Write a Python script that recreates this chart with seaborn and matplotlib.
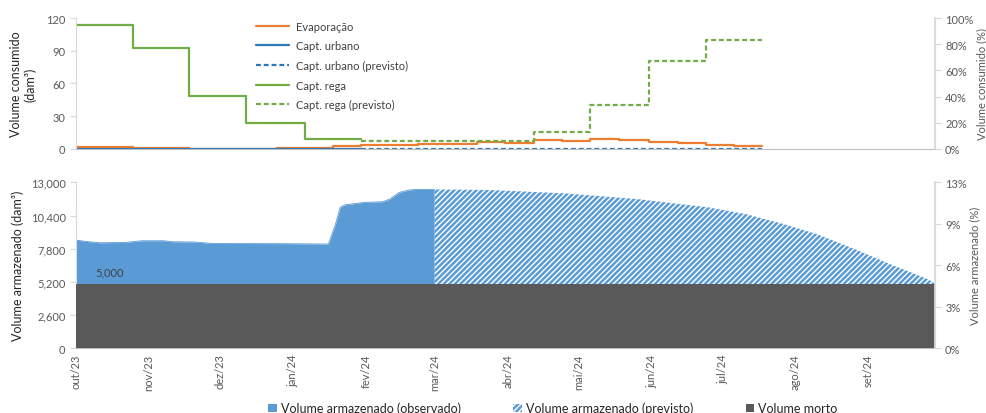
import matplotlib
matplotlib.use("Agg")
import matplotlib.pyplot as plt
import matplotlib.ticker as mticker
from matplotlib.patches import Patch
from matplotlib.lines import Line2D
import seaborn as sns
import pandas as pd

# ---- top chart: consumption, step series (values in dam3) ----
period_dates = ["2023-10-01", "2023-10-13", "2023-10-25", "2023-11-06", "2023-11-18",
                "2023-11-30", "2023-12-12", "2023-12-25", "2024-01-06", "2024-01-18",
                "2024-01-30", "2024-02-11", "2024-02-23", "2024-03-07", "2024-03-19",
                "2024-03-31", "2024-04-12", "2024-04-24", "2024-05-06", "2024-05-18",
                "2024-05-31", "2024-06-12", "2024-06-24", "2024-07-06", "2024-07-18"]
evaporacao = [2.1, 2.1, 0.9, 0.9, 0.3, 0.3, 0.1, 1.0, 1.2, 2.2, 3.2, 3.2, 4.8, 4.8,
              6.7, 5.5, 8.0, 7.4, 8.9, 8.0, 6.4, 5.4, 3.8, 2.9, 2.9]
rega_obs = [113.5, 113.5, 92.5, 92.5, 48.5, 48.5, 24.0, 24.0, 9.0, 9.0, 9.0]
rega_prev = [7.6, 7.6, 7.6, 7.6, 7.6, 7.6, 15.8, 15.8, 40.5, 40.5, 81.0, 81.0,
             100.0, 100.0, 100.0]
urbano_obs = [0.2] * 11
urbano_prev = [0.2] * 15

# ---- bottom chart: storage (dam3) ----
obs_dates = ["2023-10-01", "2023-10-05", "2023-10-11", "2023-10-22", "2023-10-29",
             "2023-11-07", "2023-11-11", "2023-11-20", "2023-11-28", "2023-12-28",
             "2024-01-16", "2024-01-19", "2024-01-21", "2024-01-23", "2024-01-31",
             "2024-02-08", "2024-02-11", "2024-02-15", "2024-02-19", "2024-02-22",
             "2024-03-01"]
obs_volume = [8470, 8370, 8260, 8290, 8420, 8420, 8340, 8320, 8210, 8190,
              8160, 9730, 11040, 11240, 11430, 11480, 11690, 12215, 12395, 12450,
              12450]
prev_dates = ["2024-03-01", "2024-03-25", "2024-04-25", "2024-05-26", "2024-06-25",
              "2024-07-11", "2024-07-26", "2024-08-10", "2024-08-26", "2024-09-10",
              "2024-09-26", "2024-09-29"]
prev_volume = [12450, 12400, 12140, 11690, 11040, 10510, 9780, 8945, 7770, 6590,
               5410, 5075]
dead_dates = ["2023-10-01", "2024-09-29"]
dead_volume = [5000, 5000]

month_ticks = ["2023-10-01", "2023-11-01", "2023-12-01", "2024-01-01", "2024-02-01",
               "2024-03-01", "2024-04-01", "2024-05-01", "2024-06-01", "2024-07-01",
               "2024-08-01", "2024-09-01"]
month_labels = ["out/23", "nov/23", "dez/23", "jan/24", "fev/24", "mar/24",
                "abr/24", "mai/24", "jun/24", "jul/24", "ago/24", "set/24"]

orange = "#ED7D31"
dblue = "#2E75B6"
green = "#70AD47"
blue = "#5B9BD5"
dgrey = "#595959"
tgrey = "#595959"
spine = "#D9D9D9"

sns.set_theme(style="white")
plt.rcParams["font.family"] = ["Lato", "DejaVu Sans"]
plt.rcParams["hatch.linewidth"] = 1.8

fig = plt.figure(figsize=(9.87, 4.14), dpi=100)
ax_top = fig.add_axes([0.077, 0.638, 0.870, 0.316])
ax_bot = fig.add_axes([0.077, 0.157, 0.870, 0.400], sharex=ax_top)

dates = pd.to_datetime(period_dates)
dash = (0, (2.2, 1.3))
lw = 1.6
sns.lineplot(x=dates, y=evaporacao, ax=ax_top, color=orange, linewidth=lw,
             drawstyle="steps-post")
sns.lineplot(x=dates[:11], y=urbano_obs, ax=ax_top, color=dblue, linewidth=lw,
             drawstyle="steps-post")
sns.lineplot(x=dates[10:], y=urbano_prev, ax=ax_top, color=dblue, linewidth=lw,
             linestyle=dash, drawstyle="steps-post")
sns.lineplot(x=dates[:11], y=rega_obs, ax=ax_top, color=green, linewidth=lw,
             drawstyle="steps-post")
sns.lineplot(x=dates[10:], y=rega_prev, ax=ax_top, color=green, linewidth=lw,
             linestyle=dash, drawstyle="steps-post")

ax_top.set_ylim(0, 120)
ax_top.set_yticks([0, 30, 60, 90, 120])
ax_top.set_ylabel("Volume consumido\n(dam³)", fontsize=9, color="#262626")
ax_top.yaxis.set_label_coords(-0.046, 0.5)

top_r = ax_top.twinx()
top_r.set_ylim(0, 1)
top_r.set_yticks([0, 0.2, 0.4, 0.6, 0.8, 1.0])
top_r.yaxis.set_major_formatter(mticker.PercentFormatter(1, decimals=0))
top_r.set_ylabel("Volume consumido (%)", fontsize=8, color=tgrey, labelpad=2)

handles = [Line2D([], [], color=orange, lw=lw),
           Line2D([], [], color=dblue, lw=lw),
           Line2D([], [], color=dblue, lw=lw, linestyle=dash),
           Line2D([], [], color=green, lw=lw),
           Line2D([], [], color=green, lw=lw, linestyle=dash)]
labels = ["Evaporação", "Capt. urbano", "Capt. urbano (previsto)", "Capt. rega",
          "Capt. rega (previsto)"]
ax_top.legend(handles, labels, loc="upper left", bbox_to_anchor=(0.259, 0.948),
              bbox_transform=fig.transFigure, frameon=False, fontsize=8,
              handlelength=3.0, handletextpad=0.6, labelspacing=0.78,
              borderpad=0, borderaxespad=0, labelcolor="#404040")

# bottom chart
obs = pd.DataFrame({"date": pd.to_datetime(obs_dates), "volume": obs_volume})
prev = pd.DataFrame({"date": pd.to_datetime(prev_dates), "volume": prev_volume})
dead = pd.DataFrame({"date": pd.to_datetime(dead_dates), "volume": dead_volume})

sns.lineplot(data=obs, x="date", y="volume", ax=ax_bot, color=blue, linewidth=0.6)
ax_bot.fill_between(obs["date"], 0, obs["volume"], color=blue, linewidth=0)
ax_bot.fill_between(prev["date"], 0, prev["volume"], facecolor="white",
                    edgecolor=blue, hatch="//////", linewidth=0)
ax_bot.fill_between(dead["date"], 0, dead["volume"], color=dgrey, linewidth=0,
                    zorder=3)
ax_bot.text(pd.Timestamp("2023-10-09"), 5950, "5,000", fontsize=8, color="#404040",
            va="center", ha="left", zorder=4)

ax_bot.set_ylim(0, 13000)
ax_bot.set_yticks([0, 2600, 5200, 7800, 10400, 13000])
ax_bot.yaxis.set_major_formatter(mticker.StrMethodFormatter("{x:,.0f}"))
ax_bot.set_ylabel("Volume armazenado (dam³)", fontsize=9, color="#262626")
ax_bot.yaxis.set_label_coords(-0.060, 0.5)
ax_bot.set_xlabel("")

bot_r = ax_bot.twinx()
bot_r.set_ylim(0, 0.125)
bot_r.yaxis.set_major_locator(mticker.FixedLocator([0, 0.03125, 0.0625, 0.09375, 0.125]))
bot_r.yaxis.set_major_formatter(mticker.FixedFormatter(["0%", "3%", "6%", "9%", "13%"]))
bot_r.set_ylabel("Volume armazenado (%)", fontsize=8, color=tgrey, labelpad=2)

ax_bot.set_xlim(pd.Timestamp("2023-10-01"), pd.Timestamp("2024-09-29"))
ax_bot.set_xticks(pd.to_datetime(month_ticks))
ax_bot.set_xticklabels(month_labels, rotation=90)
ax_top.tick_params(axis="x", labelbottom=False, length=0)
ax_bot.tick_params(axis="x", length=0, pad=4, labelsize=8, labelcolor=tgrey)

for a in (ax_top, ax_bot):
    a.tick_params(axis="y", length=4, width=0.8, color=spine, labelsize=8,
                  labelcolor=tgrey, left=True)
    a.set_xlabel("")
    for s in a.spines.values():
        s.set_color(spine)
        s.set_linewidth(0.8)
    a.spines["top"].set_visible(False)
for a in (top_r, bot_r):
    a.tick_params(axis="y", length=4, width=0.8, color=spine, labelsize=8,
                  labelcolor=tgrey, right=True)
    a.spines["top"].set_visible(False)
    a.spines["left"].set_visible(False)
    a.spines["right"].set_color(spine)
    a.spines["bottom"].set_visible(False)
ax_top.spines["bottom"].set_color("#BFBFBF")
ax_bot.spines["bottom"].set_color("#BFBFBF")

leg_handles = [Patch(facecolor=blue, edgecolor=blue, linewidth=0),
               Patch(facecolor="white", edgecolor=blue, hatch="//////", linewidth=0),
               Patch(facecolor=dgrey, edgecolor=dgrey, linewidth=0)]
leg_labels = ["Volume armazenado (observado)", "Volume armazenado (previsto)",
              "Volume morto"]
fig.legend(leg_handles, leg_labels, loc="center", bbox_to_anchor=(0.56, 0.012),
           ncol=3, frameon=False, fontsize=9, handlelength=0.7, handleheight=0.7,
           handletextpad=0.3, columnspacing=4.2, labelcolor="#262626")

fig.savefig("out.png", dpi=100)
